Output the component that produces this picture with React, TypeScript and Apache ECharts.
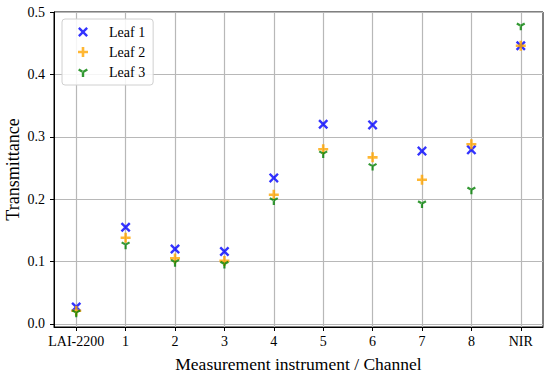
import React, { useEffect, useRef } from "react";
import * as echarts from "echarts";

const categories = ["LAI-2200", "1", "2", "3", "4", "5", "6", "7", "8", "NIR"];
const leaf1 = [0.027, 0.155, 0.12, 0.116, 0.234, 0.32, 0.319, 0.277, 0.279, 0.446];
const leaf2 = [0.021, 0.138, 0.105, 0.101, 0.207, 0.28, 0.267, 0.231, 0.288, 0.446];
const leaf3 = [0.018, 0.127, 0.099, 0.096, 0.198, 0.273, 0.253, 0.193, 0.215, 0.478];
const yTicks = [0, 0.1, 0.2, 0.3, 0.4, 0.5];
const seriesNames = ["Leaf 1", "Leaf 2", "Leaf 3"];

const X_PATH =
  "path://M0,1.7L1.7,0L5,3.3L8.3,0L10,1.7L6.7,5L10,8.3L8.3,10L5,6.7L1.7,10L0,8.3L3.3,5Z";
const PLUS_PATH = "path://M3.7,0H6.3V3.7H10V6.3H6.3V10H3.7V6.3H0V3.7H3.7Z";
const TRI_PATH =
  "path://M3.8,5H6.2V10H3.8Z M5.6,3.96L1.27,1.46L0.07,3.54L4.4,6.04Z M4.4,3.96L8.73,1.46L9.93,3.54L5.6,6.04Z M5,3.6L6.2,5.7L3.8,5.7Z M4.99,0L5.01,0L5,0.01Z";

const FONT = "Liberation Serif";

export default function App() {
  const ref = useRef<HTMLDivElement>(null);
  useEffect(() => {
    if (!ref.current) return;
    const chart = echarts.init(ref.current, null, { renderer: "svg" });
    const toData = (arr: number[]) => arr.map((v, i) => [i, v]);
    const xIdx = categories.map((_, i) => i);
    chart.setOption({
      animation: false,
      backgroundColor: "#fff",
      textStyle: { fontFamily: FONT },
      grid: {
        left: 54,
        right: 7,
        top: 12,
        bottom: 48,
        containLabel: false,
        outerBoundsMode: "none",
        show: true,
        borderColor: "#000",
        borderWidth: 1,
      },
      legend: {
        orient: "vertical",
        left: 62,
        top: 19,
        padding: [6, 8, 6, 16],
        itemWidth: 10,
        itemHeight: 10,
        itemGap: 6,
        borderColor: "#d0d0d0",
        borderWidth: 1,
        borderRadius: 3,
        backgroundColor: "rgba(255,255,255,0.85)",
        textStyle: {
          fontFamily: FONT,
          fontSize: 14,
          color: "#000",
          lineHeight: 14,
          padding: [0, 0, 0, 16],
        },
        data: [
          { name: seriesNames[0], icon: X_PATH },
          { name: seriesNames[1], icon: PLUS_PATH },
          { name: seriesNames[2], icon: TRI_PATH },
        ],
      },
      xAxis: {
        type: "value",
        min: -0.45,
        max: 9.45,
        name: "Measurement instrument / Channel",
        nameLocation: "middle",
        nameGap: 28,
        nameMoveOverlap: false,
        nameTextStyle: { fontFamily: FONT, fontSize: 17.5, color: "#000" },
        axisLine: { show: true, onZero: false, lineStyle: { color: "#000", width: 1 } },
        axisTick: { show: true, length: 4, lineStyle: { color: "#000" }, customValues: xIdx },
        axisLabel: {
          customValues: xIdx,
          margin: 7,
          fontFamily: FONT,
          fontSize: 14,
          color: "#000",
          formatter: (v: number) => categories[Math.round(v)] ?? "",
        },
        splitLine: { show: true, lineStyle: { color: "#b8b8b8", width: 1.2 } },
      },
      yAxis: {
        type: "value",
        min: -0.005,
        max: 0.5,
        name: "Transmittance",
        nameLocation: "middle",
        nameGap: 32,
        nameMoveOverlap: false,
        nameTextStyle: { fontFamily: FONT, fontSize: 18, color: "#000" },
        axisLine: { show: true, onZero: false, lineStyle: { color: "#000", width: 1 } },
        axisTick: { show: true, length: 4, lineStyle: { color: "#000" }, customValues: yTicks },
        axisLabel: {
          customValues: yTicks,
          margin: 9,
          fontFamily: FONT,
          fontSize: 14,
          color: "#000",
          formatter: (v: number) => v.toFixed(1),
        },
        splitLine: { show: true, lineStyle: { color: "#b8b8b8", width: 1.2 } },
      },
      series: [
        {
          name: seriesNames[0],
          type: "scatter",
          symbol: X_PATH,
          symbolSize: 10,
          itemStyle: { color: "#0000ff" },
          data: toData(leaf1),
          z: 3,
        },
        {
          name: seriesNames[1],
          type: "scatter",
          symbol: PLUS_PATH,
          symbolSize: 10,
          itemStyle: { color: "#ffa500" },
          data: toData(leaf2),
          z: 4,
        },
        {
          name: seriesNames[2],
          type: "scatter",
          symbol: TRI_PATH,
          symbolSize: 9,
          itemStyle: { color: "#008000" },
          data: toData(leaf3),
          z: 5,
        },
      ],
    });
    return () => chart.dispose();
  }, []);
  return (
    <div
      ref={ref}
      style={{ position: "fixed", left: 0, top: 0, width: 550, height: 375 }}
    />
  );
}
